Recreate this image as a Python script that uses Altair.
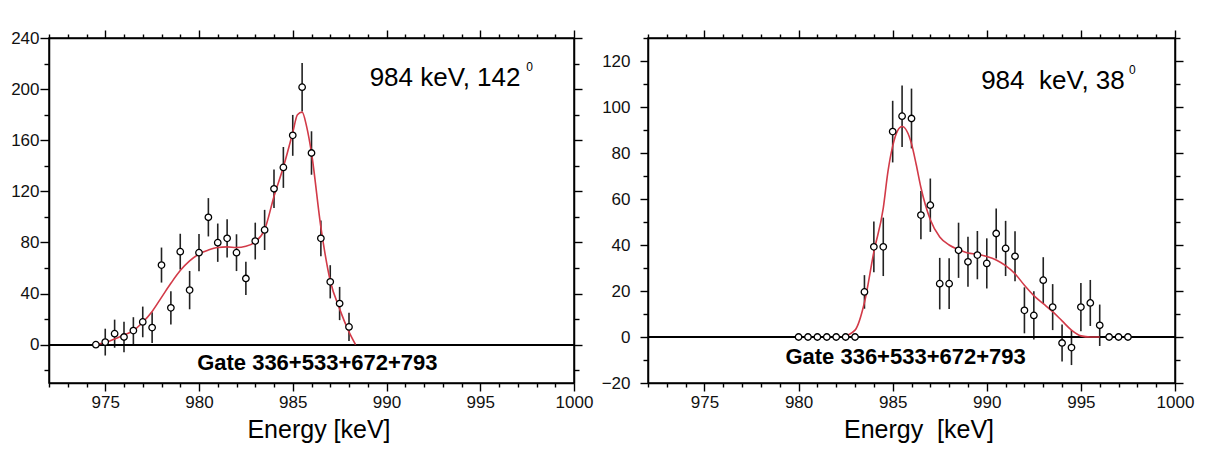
import altair as alt
import pandas as pd

# ---------------- data ----------------
# Left panel: 984 keV, 142 deg
LEFT_E = [974.5, 975.0, 975.5, 976.0, 976.5, 977.0, 977.5, 978.0, 978.5, 979.0,
          979.5, 980.0, 980.5, 981.0, 981.5, 982.0, 982.5, 983.0, 983.5, 984.0,
          984.5, 985.0, 985.5, 986.0, 986.5, 987.0, 987.5, 988.0]
LEFT_COUNTS = [0, 2, 8.6, 6, 11, 17.8, 13.4, 62.3, 28.8, 72.8,
               42.7, 72, 99.7, 79.8, 83.2, 72, 51.8, 81.1, 89.8, 122,
               138.7, 163.8, 201.5, 150, 83.2, 49.2, 32.2, 13.9]
LEFT_ERR = [0, 10.5, 11, 12, 10.5, 12, 12, 13.7, 13, 14,
            15, 14.6, 15, 15, 15, 14.4, 13, 14.4, 15.7, 15,
            16, 16, 19, 17, 14, 13, 13, 11]
LEFT_FIT_E = [974.5, 975, 975.5, 976, 976.5, 977, 977.5, 978, 978.5, 979,
              979.5, 980, 980.5, 981, 981.5, 982, 982.5, 983, 983.5, 984,
              984.5, 985, 985.25, 985.5, 985.75, 986, 986.5, 987, 987.5, 988, 988.35]
LEFT_FIT = [0.5, 1.5, 4.5, 7.5, 11, 17.5, 26, 37, 48, 58,
            65.5, 71, 74, 76, 76.5, 76, 77, 80.5, 90, 116,
            139, 166, 180, 182, 170, 150, 92, 50, 28, 10, 0]

# Right panel: 984 keV, 38 deg
RIGHT_E = [980, 980.5, 981, 981.5, 982, 982.5, 983, 983.5, 984, 984.5,
           985, 985.5, 986, 986.5, 987, 987.5, 988, 988.5, 989, 989.5,
           990, 990.5, 991, 991.5, 992, 992.5, 993, 993.5, 994, 994.5,
           995, 995.5, 996, 996.5, 997, 997.5]
RIGHT_COUNTS = [0, 0, 0, 0, 0, 0, 0, 19.6, 39.2, 39.2,
                89.3, 96, 95, 53, 57.3, 23.2, 23.2, 37.7, 32.7, 35.6,
                32, 45, 38.5, 35.1, 11.6, 9.4, 24.7, 13, -2.6, -4.6,
                13, 14.8, 5.1, 0, 0, 0]
RIGHT_ERR = [0, 0, 0, 0, 0, 0, 0, 7.3, 11, 12.7,
             13.4, 13.4, 13, 10.5, 11.6, 11.2, 11, 12, 10.9, 10.5,
             10.9, 10.9, 12, 10.9, 10, 10.5, 10, 10, 8, 7.6,
             10.5, 10, 9, 0, 0, 0]
RIGHT_FIT_E = [982.3, 983, 983.5, 984, 984.5, 984.75, 985, 985.25, 985.5, 986,
               986.25, 986.5, 987, 987.5, 988, 988.5, 989, 989.5, 990, 990.5,
               991, 991.5, 992, 992.5, 993, 993.5, 994, 994.5, 995, 995.5, 996]
RIGHT_FIT = [0, 3, 15, 37, 56, 72, 83, 89.5, 91.5, 84,
             75, 65, 51, 43.5, 40, 38, 36.5, 36, 35, 33.5,
             31, 27.5, 22.5, 18, 14.5, 11, 7, 3, 0.5, 0, 0]

LEFT_LABEL = "984 keV, 142"
RIGHT_LABEL = "984\u00a0 keV, 38"
SUP = "0"
GATE = "Gate 336+533+672+793"
LEFT_XTITLE = "Energy [keV]"
RIGHT_XTITLE = "Energy\u00a0 [keV]"

FONT = "Liberation Sans"
X_DOMAIN = [972, 1000]


def tick_cond(step, major, minor):
    return {"condition": {"test": f"datum.value % {step} === 0", "value": major},
            "value": minor}


def panel(E, C, ERR, FE, FV, ydom, ystep, ymajor, ytick_major, ylabpad,
          label, label_xy, sup_xy, gate_xy, xtitle, width):
    pts = pd.DataFrame({"E": E, "C": C,
                        "lo": [c - e for c, e in zip(C, ERR)],
                        "hi": [c + e for c, e in zip(C, ERR)]})
    fit = pd.DataFrame({"E": FE, "F": FV})
    xs = alt.Scale(domain=X_DOMAIN, nice=False, zero=False)
    ys = alt.Scale(domain=ydom, nice=False, zero=False)
    xvals = list(range(X_DOMAIN[0], X_DOMAIN[1] + 1))
    yvals = list(range(ydom[0] - ydom[0] % ystep + (ystep if ydom[0] % ystep else 0),
                       ydom[1] + 1, ystep))

    x_bottom = alt.Axis(orient="bottom", values=xvals, format="d",
                        labelExpr="datum.value % 5 === 0 ? datum.label : ''",
                        tickSize=tick_cond(5, 8, 4), labelPadding=3,
                        labelOverlap=False, labelFlush=False, labelBound=False,
                        title=xtitle, titlePadding=7, titleX=width / 2 + 7)
    x_top = alt.Axis(orient="top", values=xvals, labels=False, title=None,
                     tickSize=tick_cond(5, 8, 4), minExtent=24, maxExtent=24)
    y_left = alt.Axis(orient="left", values=yvals, format="d",
                      labelExpr=f"datum.value % {ymajor} === 0 ? datum.label : ''",
                      tickSize=tick_cond(ymajor, ytick_major, 5), labelPadding=ylabpad,
                      labelOverlap=False, labelFlush=False, labelBound=False, title=None)
    y_right = alt.Axis(orient="right", values=yvals, labels=False, title=None,
                       tickSize=tick_cond(ymajor, 8, 5))

    zero = alt.Chart(pts).mark_rule(color="black", strokeWidth=1.5).encode(
        y=alt.YDatum(0, axis=None, scale=ys))
    errs = alt.Chart(pts).mark_rule(color="#222222", strokeWidth=1.6).encode(
        x=alt.X("E:Q", scale=xs, axis=x_bottom),
        y=alt.Y("lo:Q", scale=ys, axis=y_left),
        y2="hi:Q")
    frame = alt.Chart(pts).mark_point(opacity=0).encode(
        x=alt.X("E:Q", scale=xs, axis=x_top),
        y=alt.Y("C:Q", scale=ys, axis=y_right))
    line = alt.Chart(fit).mark_line(color="#d23a48", strokeWidth=1.6,
                                    interpolate="monotone").encode(
        x=alt.X("E:Q", scale=xs, axis=None),
        y=alt.Y("F:Q", scale=ys, axis=None))
    points = alt.Chart(pts).mark_point(shape="circle", filled=True, fill="white",
                                       stroke="black", strokeWidth=1.3,
                                       size=42, opacity=1).encode(
        x=alt.X("E:Q", scale=xs, axis=None),
        y=alt.Y("C:Q", scale=ys, axis=None))

    def txt(s, xy, size, weight="normal"):
        df = pd.DataFrame({"x": [xy[0]], "y": [xy[1]], "t": [s]})
        return alt.Chart(df).mark_text(align="left", baseline="alphabetic",
                                       font=FONT, fontSize=size, fontWeight=weight,
                                       color="black").encode(
            x=alt.X("x:Q", scale=xs, axis=None),
            y=alt.Y("y:Q", scale=ys, axis=None),
            text="t:N")

    layer = alt.layer(
        errs, frame, zero, line, points,
        txt(label, label_xy, 26),
        txt(SUP, sup_xy, 12),
        txt(GATE, gate_xy, 22, "bold"),
    ).resolve_axis(x="independent", y="independent").properties(
        width=width, height=345)
    return layer


left = panel(LEFT_E, LEFT_COUNTS, LEFT_ERR, LEFT_FIT_E, LEFT_FIT,
             [-30, 240], 20, 40, 9, 1,
             LEFT_LABEL, (989.1, 202.3), (997.45, 214.5), (979.9, -20.1),
             LEFT_XTITLE, 525)
right = panel(RIGHT_E, RIGHT_COUNTS, RIGHT_ERR, RIGHT_FIT_E, RIGHT_FIT,
              [-20, 130], 10, 20, 8, 10,
              RIGHT_LABEL, (989.7, 107.7), (997.55, 114.5), (979.3, -11.6),
              RIGHT_XTITLE, 527)

chart = alt.hconcat(left, right, spacing=74, bounds="flush").properties(
    padding={"left": 1, "top": 5, "right": 5, "bottom": 0},
    background="white",
).configure_view(
    stroke="black", strokeWidth=1.5
).configure_axis(
    domainColor="black", domainWidth=1.5, tickColor="black", tickWidth=1.4,
    labelFont=FONT, labelFontSize=17, labelColor="#111111",
    titleFont=FONT, titleFontSize=25, titleFontWeight="normal", titleColor="black",
    grid=False,
)

chart.save("out.html", embed_options={"renderer": "svg", "actions": False})
